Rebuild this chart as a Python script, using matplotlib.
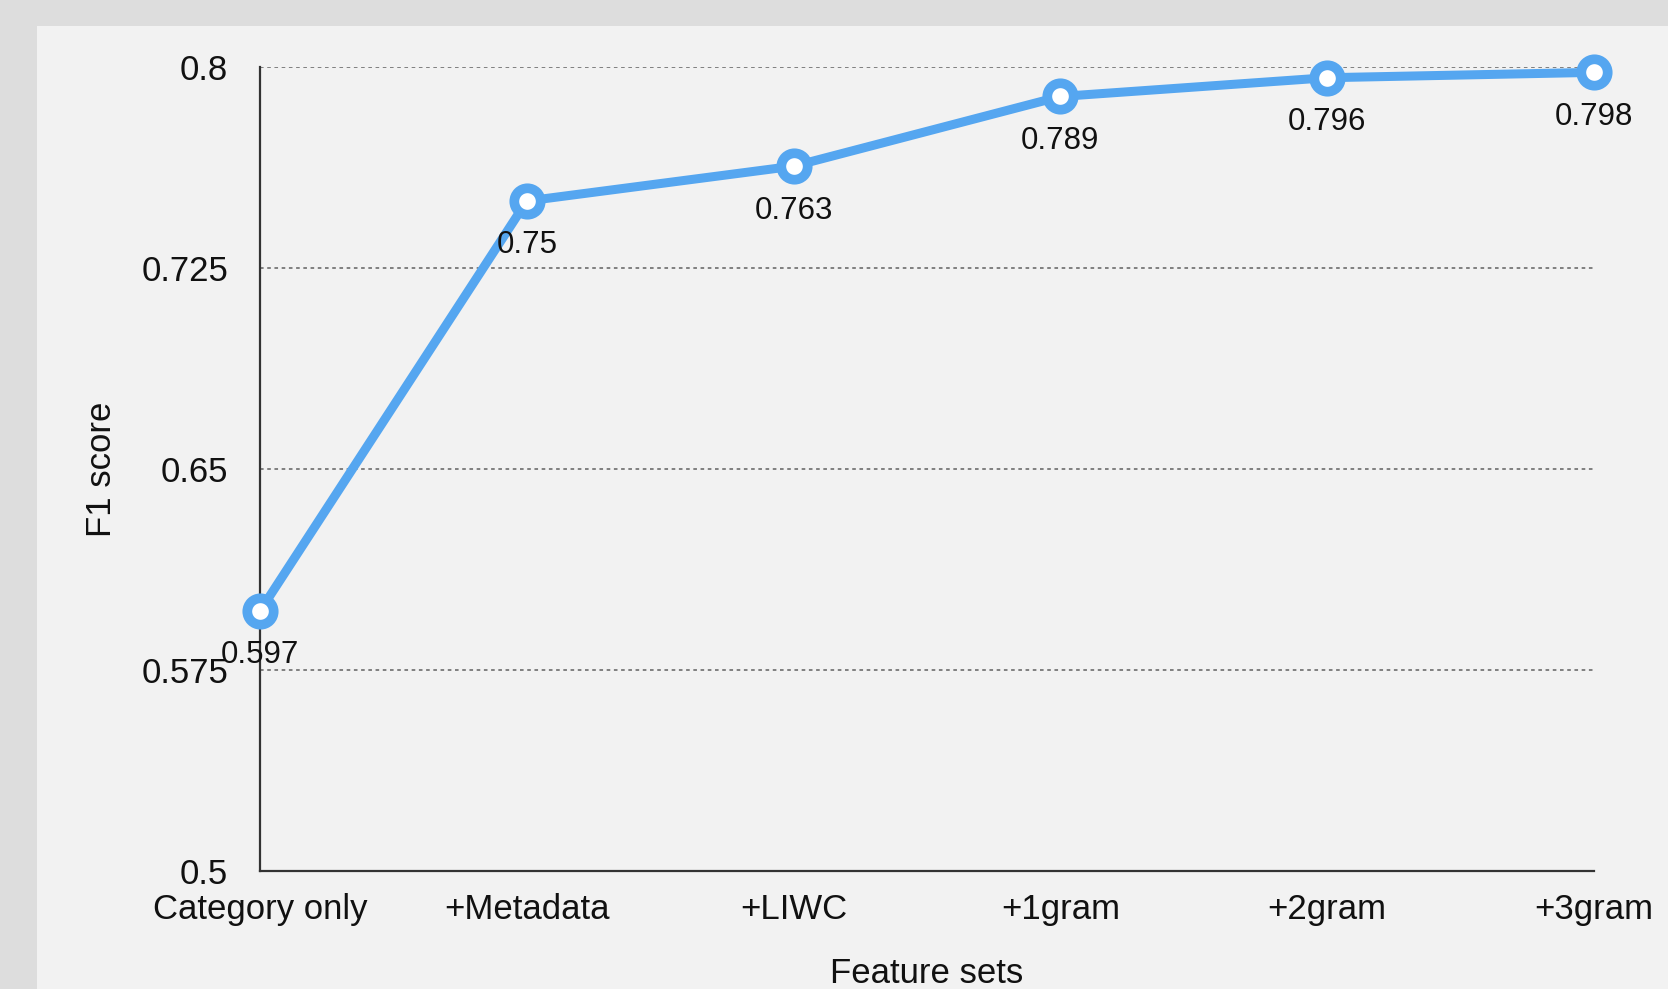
import matplotlib
matplotlib.use('Agg')
import matplotlib.pyplot as plt
from matplotlib.patches import Rectangle

plt.rcParams['font.family'] = ['Liberation Sans', 'DejaVu Sans']

# data
feature_sets = ['Category only', '+Metadata', '+LIWC', '+1gram', '+2gram', '+3gram']
f1_scores = [0.597, 0.75, 0.763, 0.789, 0.796, 0.798]
y_ticks = [0.5, 0.575, 0.65, 0.725, 0.8]
y_tick_labels = ['0.5', '0.575', '0.65', '0.725', '0.8']

blue = '#55a6f0'

fig = plt.figure(figsize=(16.68, 9.89), dpi=100, facecolor='#dddddd')
# light inner panel, behind the axes
fig.add_artist(Rectangle((37 / 1668, 0), 1, 1 - 26 / 989,
                         transform=fig.transFigure, facecolor='#f2f2f2',
                         edgecolor='none', zorder=-10))

ax = fig.add_axes([260 / 1668, 1 - 871 / 989, 1334 / 1668, 804 / 989])
ax.set_facecolor('none')

xs = list(range(len(feature_sets)))
ax.plot(xs, f1_scores, color=blue, lw=6.5, marker='o', markersize=19,
        markerfacecolor='white', markeredgecolor=blue, markeredgewidth=7,
        zorder=3, clip_on=False, solid_capstyle='round')

for x, v in zip(xs, f1_scores):
    ax.annotate(f'{v:g}', (x, v), xytext=(0, -32), textcoords='offset points',
                ha='center', va='center', fontsize=22.5, color='#111111', zorder=4)

ax.set_xlim(0, 5)
ax.set_ylim(0.5, 0.8)
ax.set_xticks(xs)
ax.set_xticklabels(feature_sets, fontsize=25)
ax.set_yticks(y_ticks)
ax.set_yticklabels(y_tick_labels, fontsize=25)
ax.tick_params(axis='both', length=0, colors='#111111')
ax.tick_params(axis='y', pad=23)
ax.tick_params(axis='x', pad=16)

for y in y_ticks[1:]:
    ax.axhline(y, color='#777777', lw=1.3, ls=(0, (2, 2)), zorder=1)

for s in ['top', 'right']:
    ax.spines[s].set_visible(False)
for s in ['left', 'bottom']:
    ax.spines[s].set_color('#333333')
    ax.spines[s].set_linewidth(1.6)

ax.set_xlabel('Feature sets', fontsize=25, color='#111111', labelpad=22)
ax.set_ylabel('F1 score', fontsize=25, color='#111111', labelpad=17)

fig.savefig('out.png', dpi=100, facecolor=fig.get_facecolor())
